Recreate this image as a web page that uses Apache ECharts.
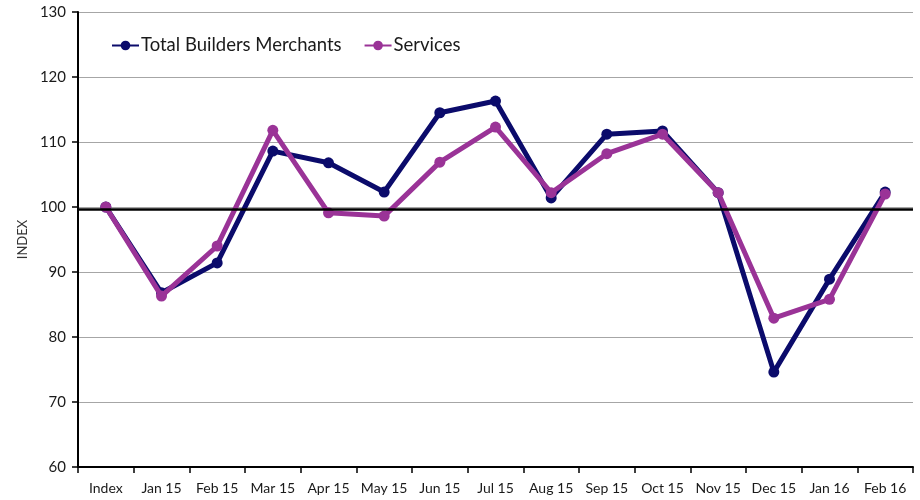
<!DOCTYPE html>
<html><head><meta charset="utf-8">
<script src="https://cdn.jsdelivr.net/npm/echarts@6/dist/echarts.min.js"></script>
<style>html,body{margin:0;padding:0;background:#fff}#c{width:920px;height:500px}</style>
</head><body><div id="c"></div>
<script>
const categories = ['Index','Jan 15','Feb 15','Mar 15','Apr 15','May 15','Jun 15','Jul 15','Aug 15','Sep 15','Oct 15','Nov 15','Dec 15','Jan 16','Feb 16'];
const totalBuildersMerchants = [100, 86.8, 91.4, 108.6, 106.8, 102.3, 114.5, 116.3, 101.4, 111.2, 111.7, 102.2, 74.6, 88.9, 102.3];
const services = [100, 86.3, 94.0, 111.8, 99.1, 98.6, 106.9, 112.3, 102.2, 108.2, 111.2, 102.2, 82.9, 85.8, 102.0];
const baseline = 99.7;
const font = 'Lato';
const chart = echarts.init(document.getElementById('c'), null, {renderer:'canvas'});
chart.setOption({
  animation:false,
  textStyle:{fontFamily:font},
  grid:{left:78,right:7,top:12,bottom:33,containLabel:false},
  legend:{
    left:106, top:31, itemWidth:27, itemHeight:12, itemGap:22,
    textStyle:{fontFamily:font,fontSize:18.5,color:'#1a1a1a',padding:[0,0,0,-3]},
    data:['Total Builders Merchants','Services']
  },
  xAxis:{
    type:'category', data:categories, boundaryGap:true,
    axisLine:{lineStyle:{color:'#000',width:2}},
    axisTick:{show:true,length:6,lineStyle:{color:'#000',width:1.5}},
    axisLabel:{fontFamily:font,fontSize:14,color:'#1a1a1a',margin:14,interval:0}
  },
  yAxis:{
    type:'value', min:60, max:130, interval:10,
    name:'INDEX', nameLocation:'middle', nameGap:48, nameRotate:90,
    nameTextStyle:{fontFamily:font,fontSize:13,color:'#333'},
    axisLine:{show:true,lineStyle:{color:'#000',width:2}},
    axisTick:{show:true,length:6,lineStyle:{color:'#000',width:1.5}},
    axisLabel:{fontFamily:font,fontSize:15,color:'#1a1a1a',margin:12},
    splitLine:{lineStyle:{color:'#a6a6a6',width:1.2}}
  },
  series:[
    {name:'Total Builders Merchants', type:'line', data:totalBuildersMerchants,
     symbol:'circle', symbolSize:11, lineStyle:{width:5,color:'#0b0b6b'},
     itemStyle:{color:'#0b0b6b'}, z:3,
     markLine:{silent:true, symbol:'none', label:{show:false},
       lineStyle:{color:'#000',width:2.5,type:'solid'}, data:[{yAxis:baseline}]}},
    {name:'Services', type:'line', data:services,
     symbol:'circle', symbolSize:11, lineStyle:{width:5,color:'#9a3397'},
     itemStyle:{color:'#9a3397'}, z:4}
  ]
});
</script></body></html>
